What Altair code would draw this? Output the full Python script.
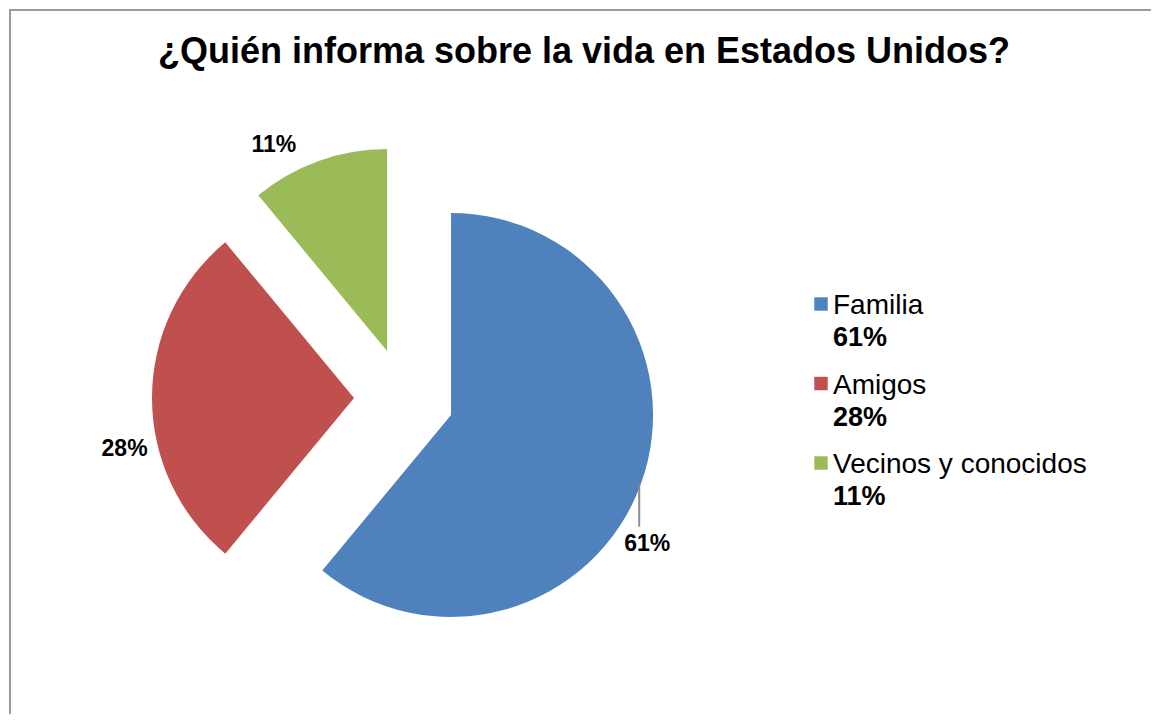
import altair as alt
import pandas as pd

# ---- data ----
categories = ["Familia", "Amigos", "Vecinos y conocidos"]
values = [61, 28, 11]
pct_labels = ["61%", "28%", "11%"]
order = [0, 1, 2]

# ---- styling / layout ----
colors = ["#4F81BD", "#C0504D", "#9BBB59"]
FONT = "Liberation Sans"
W, H = 1143, 706
CX, CY, R, EXPLODE = 395, 389, 202, 50
LABEL_R = 235
TITLE = "¿Quién informa sobre la vida en Estados Unidos?"

df = pd.DataFrame({"cat": categories, "value": values, "pct": pct_labels, "order": order})

color = alt.Color("cat:N", scale=alt.Scale(domain=categories, range=colors), legend=None)

base = (
    alt.Chart(df)
    .transform_joinaggregate(total="sum(value)")
    .transform_window(cum="sum(value)", sort=[alt.SortField("order")], frame=[None, 0])
    .transform_calculate(
        mid="(datum.cum - datum.value / 2) / datum.total * 2 * PI",
        px=f"{CX} + {EXPLODE} * sin(datum.mid)",
        py=f"{CY} - {EXPLODE} * cos(datum.mid)",
        la="datum.mid + [13.6, -12.5, -9.0][datum.order] * PI / 180",
        lx=f"datum.px + {LABEL_R} * sin(datum.la)",
        ly=f"datum.py - {LABEL_R} * cos(datum.la)",
        ex=f"datum.px + {R - 2} * sin(datum.mid)",
        ey=f"datum.py - {R - 2} * cos(datum.mid) + 2",
        ey2="datum.ey + 42",
    )
)

arcs = base.mark_arc(outerRadius=R).encode(
    theta=alt.Theta("value:Q", stack=True),
    order=alt.Order("order:Q"),
    x=alt.X("px:Q", scale=None),
    y=alt.Y("py:Q", scale=None),
    color=color,
)

labels = base.mark_text(fontSize=23, fontWeight="bold", font=FONT, color="black").encode(
    x=alt.X("lx:Q", scale=None),
    y=alt.Y("ly:Q", scale=None),
    text="pct:N",
)

leader = (
    base.transform_filter(alt.datum.cat == "Familia")
    .mark_rule(color="#8c8c8c", strokeWidth=2)
    .encode(x=alt.X("ex:Q", scale=None), y=alt.Y("ey:Q", scale=None), y2="ey2:Q")
)

# ---- legend ----
leg_scale = alt.Scale(type="point", domain=categories, range=[295, 454], padding=0)
leg_sq = alt.Chart(df).mark_square(size=180, opacity=1).encode(
    x=alt.value(812), y=alt.Y("cat:N", scale=leg_scale, axis=None), color=color
)
leg_name = alt.Chart(df).mark_text(
    align="left", baseline="alphabetic", dy=10, fontSize=28, font=FONT, color="black"
).encode(x=alt.value(824), y=alt.Y("cat:N", scale=leg_scale, axis=None), text="cat:N")
leg_pct = alt.Chart(df).mark_text(
    align="left", baseline="alphabetic", dy=42, fontSize=27, fontWeight="bold", font=FONT, color="black"
).encode(x=alt.value(824), y=alt.Y("cat:N", scale=leg_scale, axis=None), text="pct:N")

# ---- title and frame ----
one = pd.DataFrame({"k": [0]})
title = alt.Chart(one).mark_text(
    fontSize=36, fontWeight="bold", font=FONT, color="black", baseline="alphabetic", align="center"
).encode(x=alt.value(575), y=alt.value(54), text=alt.value(TITLE))
frame_left = alt.Chart(one).mark_rule(color="#9a9a9a", strokeWidth=2).encode(
    x=alt.value(1), y=alt.value(0), y2=alt.value(H)
)
frame_top = alt.Chart(one).mark_rule(color="#9a9a9a", strokeWidth=2).encode(
    x=alt.value(0), x2=alt.value(W), y=alt.value(1)
)

chart = (
    alt.layer(frame_left, frame_top, title, arcs, leader, labels, leg_sq, leg_name, leg_pct)
    .resolve_scale(x="independent", y="independent")
    .properties(
        width=W,
        height=H,
        padding=0,
        autosize=alt.AutoSizeParams(type="fit", contains="padding"),
        background="white",
    )
    .configure_view(stroke=None)
)

chart.save("out.html", embed_options={"renderer": "svg", "actions": False})
